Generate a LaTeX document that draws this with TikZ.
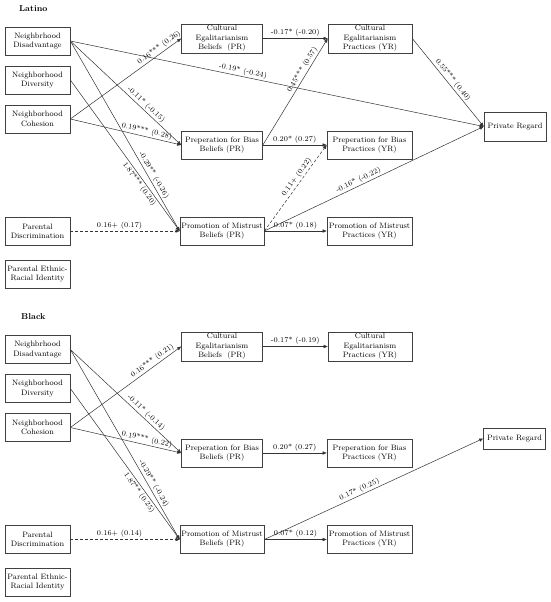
\documentclass[tikz,border=0pt]{standalone}
\usetikzlibrary{arrows.meta}
\newcommand{\bxfont}{\fontsize{7.8}{9.3}\selectfont}
\newcommand{\lbfont}{\fontsize{7.3}{8}\selectfont}
\begin{document}
\begin{tikzpicture}[x=1pt,y=-1pt,
  box/.style={draw=black!75, line width=0.7pt, align=center, font=\bxfont, inner sep=0pt, minimum height=28pt},
  lbox/.style={box, minimum width=65pt},
  ttl/.style={font=\fontsize{8.5}{10}\selectfont\bfseries, anchor=west, inner sep=0pt},
  conn/.style={-{Triangle[length=4pt,width=3.2pt]}, line width=0.5pt, draw=black!80},
  dconn/.style={conn, dash pattern=on 3pt off 2pt},
  lbl/.style={font=\lbfont, sloped, inner sep=1.5pt}]
\useasboundingbox (0,0) rectangle (550,602);

% ---------------- Latino ----------------
\node[ttl] (Lt) at (19,8.5) {Latino};
\node[lbox] (LND) at (37.5,41) {Neighbrhood\\Disadvantage};
\node[lbox] (LNV) at (37.5,80) {Neighborhood\\Diversity};
\node[lbox] (LNC) at (37.5,119) {Neighborhood\\Cohesion};
\node[lbox] (LPD) at (37.5,231) {Parental\\Discrimination};
\node[lbox] (LPE) at (37.5,274) {Parental Ethnic-\\Racial Identity};
\node[box, minimum width=81pt, minimum height=29pt] (LCB) at (222,38.5) {Cultural\\Egalitarianism\\Beliefs~ (PR)};
\node[box, minimum width=84pt, minimum height=29pt] (LCP) at (370,38.5) {Cultural\\Egalitarianism\\Practices (YR)};
\node[box, minimum width=62pt, minimum height=29pt] (LPR) at (515,126.5) {Private Regard};
\node[box, minimum width=81pt] (LBB) at (222,145) {Preperation for Bias\\Beliefs (PR)};
\node[box, minimum width=85pt] (LBP) at (369.5,145) {Preperation for Bias\\Practices (YR)};
\node[box, minimum width=84pt] (LMB) at (222,231) {Promotion of Mistrust\\Beliefs (PR)};
\node[box, minimum width=85pt] (LMP) at (369.5,231) {Promotion of Mistrust\\Practices (YR)};

\draw[conn] (LND.east) -- node[lbl, above, pos=0.415] {-0.19* (-0.24)} (LPR.west);
\draw[conn] (LND.east) -- node[lbl, above, pos=0.65] {-0.11* (-0.15)} (LBB.west);
\draw[conn] (LND.east) -- node[lbl, above, pos=0.72] {-0.29** (-0.26)} (LMB.west);
\draw[conn] (LNV.east) -- node[lbl, below, pos=0.67] {1.87*** (0.20)} (LMB.west);
\draw[conn] (LNC.east) -- node[lbl, above, pos=0.83] {0.16*** (0.26)} (LCB.west);
\draw[conn] (LNC.east) -- node[lbl, above, pos=0.68] {0.19*** (0.28)} (LBB.west);
\draw[dconn] (LPD.east) -- node[lbl, above, pos=0.45] {0.16+ (0.17)} (LMB.west);
\draw[conn] (LCB.east) -- node[lbl, above] {-0.17* (-0.20)} (LCP.west);
\draw[conn] (LBB.east) -- node[lbl, above, pos=0.68] {0.45*** (0.57)} (LCP.west);
\draw[conn] (LCP.east) -- node[lbl, above, pos=0.51] {0.55*** (0.40)} (LPR.west);
\draw[conn] (LBB.east) -- node[lbl, above] {0.20* (0.27)} (LBP.west);
\draw[dconn] (LMB.east) -- node[lbl, above, pos=0.59] {0.11+ (0.22)} (LBP.west);
\draw[conn] (LMB.east) -- node[lbl, above, pos=0.44] {-0.16* (-0.22)} (LPR.west);
\draw[conn] (LMB.east) -- node[lbl, above] {0.07* (0.18)} (LMP.west);

% ---------------- Black ----------------
\node[ttl] (Bt) at (21,317) {Black};
\node[lbox] (BND) at (37.5,349.5) {Neighbrhood\\Disadvantage};
\node[lbox] (BNV) at (37.5,388.5) {Neighborhood\\Diversity};
\node[lbox] (BNC) at (37.5,427.5) {Neighborhood\\Cohesion};
\node[lbox] (BPD) at (37.5,539.5) {Parental\\Discrimination};
\node[lbox] (BPE) at (37.5,582) {Parental Ethnic-\\Racial Identity};
\node[box, minimum width=81pt, minimum height=29pt] (BCB) at (222,346.5) {Cultural\\Egalitarianism\\Beliefs~ (PR)};
\node[box, minimum width=84pt, minimum height=29pt] (BCP) at (370,346.5) {Cultural\\Egalitarianism\\Practices (YR)};
\node[box, minimum width=62pt, minimum height=21pt] (BPR) at (514.5,438.5) {Private Regard};
\node[box, minimum width=81pt] (BBB) at (222,453) {Preperation for Bias\\Beliefs (PR)};
\node[box, minimum width=85pt] (BBP) at (369.5,453) {Preperation for Bias\\Practices (YR)};
\node[box, minimum width=84pt] (BMB) at (222,539.5) {Promotion of Mistrust\\Beliefs (PR)};
\node[box, minimum width=85pt] (BMP) at (369.5,539.5) {Promotion of Mistrust\\Practices (YR)};

\draw[conn] (BND.east) -- node[lbl, above, pos=0.65] {-0.11* (-0.14)} (BBB.west);
\draw[conn] (BND.east) -- node[lbl, above, pos=0.72] {-0.29** (-0.24)} (BMB.west);
\draw[conn] (BNV.east) -- node[lbl, below, pos=0.67] {1.87** (0.25)} (BMB.west);
\draw[conn] (BNC.east) -- node[lbl, above, pos=0.77] {0.16*** (0.21)} (BCB.west);
\draw[conn] (BNC.east) -- node[lbl, above, pos=0.68] {0.19*** (0.22)} (BBB.west);
\draw[dconn] (BPD.east) -- node[lbl, above, pos=0.45] {0.16+ (0.14)} (BMB.west);
\draw[conn] (BCB.east) -- node[lbl, above] {-0.17* (-0.19)} (BCP.west);
\draw[conn] (BBB.east) -- node[lbl, above] {0.20* (0.27)} (BBP.west);
\draw[conn] (BMB.east) -- node[lbl, above, pos=0.445] {0.17* (0.25)} (BPR.west);
\draw[conn] (BMB.east) -- node[lbl, above] {0.07* (0.12)} (BMP.west);
\end{tikzpicture}
\end{document}
